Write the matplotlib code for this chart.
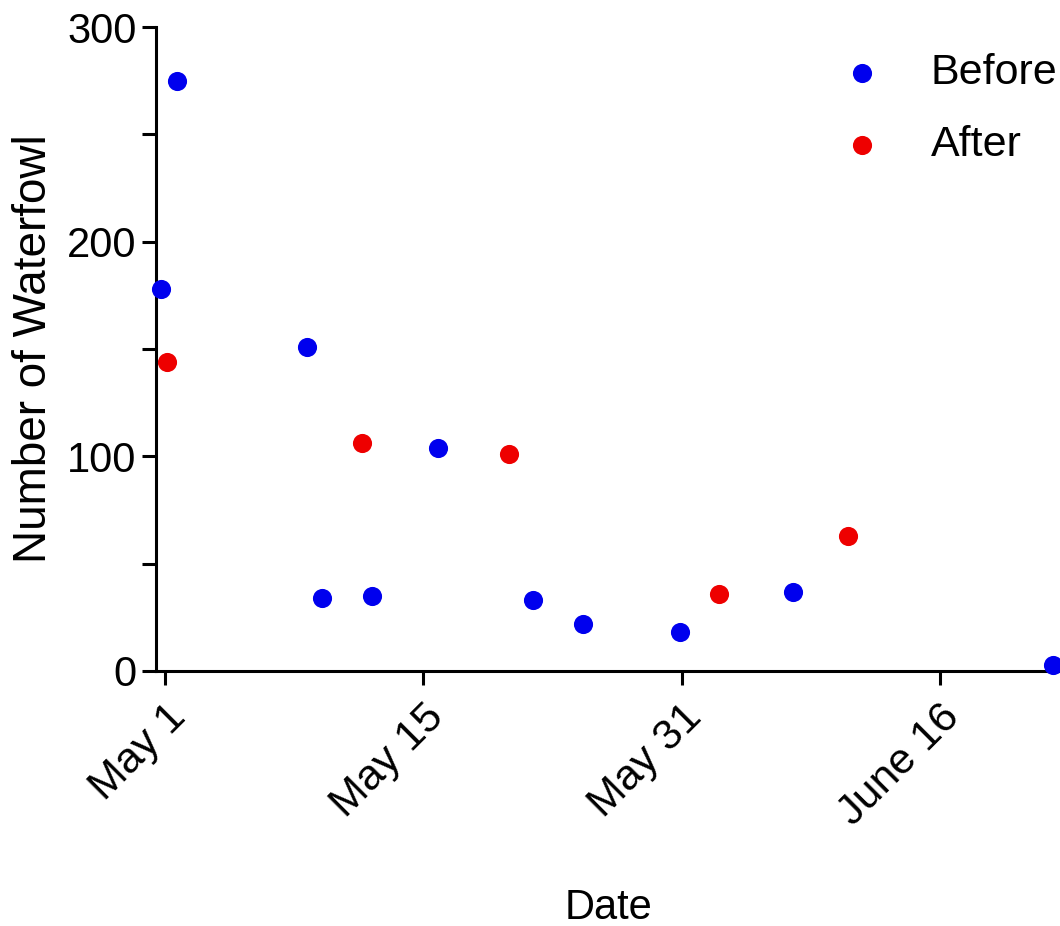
import matplotlib.pyplot as plt

# x values are days on the chart's own scale (May 1 = 0, ticks every 16)
before_day = [-0.25, 0.75, 8.8, 9.75, 12.8, 16.9, 22.8, 25.9, 31.9, 38.9, 55.0]
before_count = [178, 275, 151, 34, 35, 104, 33, 22, 18, 37, 3]

after_day = [0.15, 12.2, 21.3, 34.3, 42.3]
after_count = [144, 106, 101, 36, 63]

tick_days = [0, 16, 32, 48]
tick_labels = ['May 1', 'May 15', 'May 31', 'June 16']

plt.rcParams['font.family'] = ['Liberation Sans', 'DejaVu Sans']

fig = plt.figure(figsize=(10.6, 9.26), dpi=100)
ax = fig.add_axes([0.1472, 0.2754, 0.8528, 0.6954])

ax.scatter(before_day, before_count, s=190, color='#0000ee', label='Before',
           zorder=3, clip_on=False, linewidths=0)
ax.scatter(after_day, after_count, s=190, color='#ee0000', label='After',
           zorder=3, clip_on=False, linewidths=0)

ax.set_xlim(-0.56, 55.45)
ax.set_ylim(0, 300)
ax.set_yticks([0, 100, 200, 300])
ax.set_yticks([50, 150, 250], minor=True)
ax.set_xticks(tick_days)
ax.set_xticklabels(tick_labels, rotation=45, ha='right', rotation_mode='anchor')

for side in ['top', 'right']:
    ax.spines[side].set_visible(False)
for side in ['left', 'bottom']:
    ax.spines[side].set_linewidth(2.2)

ax.tick_params(axis='both', which='both', width=2.2, length=10, labelsize=30)
ax.tick_params(axis='y', which='major', pad=4)
ax.tick_params(axis='x', which='major', pad=9, labelsize=31)

ax.set_xlabel('Date', fontsize=30, labelpad=39)
ax.set_ylabel('Number of Waterfowl', fontsize=33, labelpad=8)

ax.legend(loc='upper right', bbox_to_anchor=(1.04, 1.02), frameon=False,
          fontsize=31, handletextpad=0.6, labelspacing=0.75, markerscale=1.0)

fig.savefig('out.png', dpi=100)
